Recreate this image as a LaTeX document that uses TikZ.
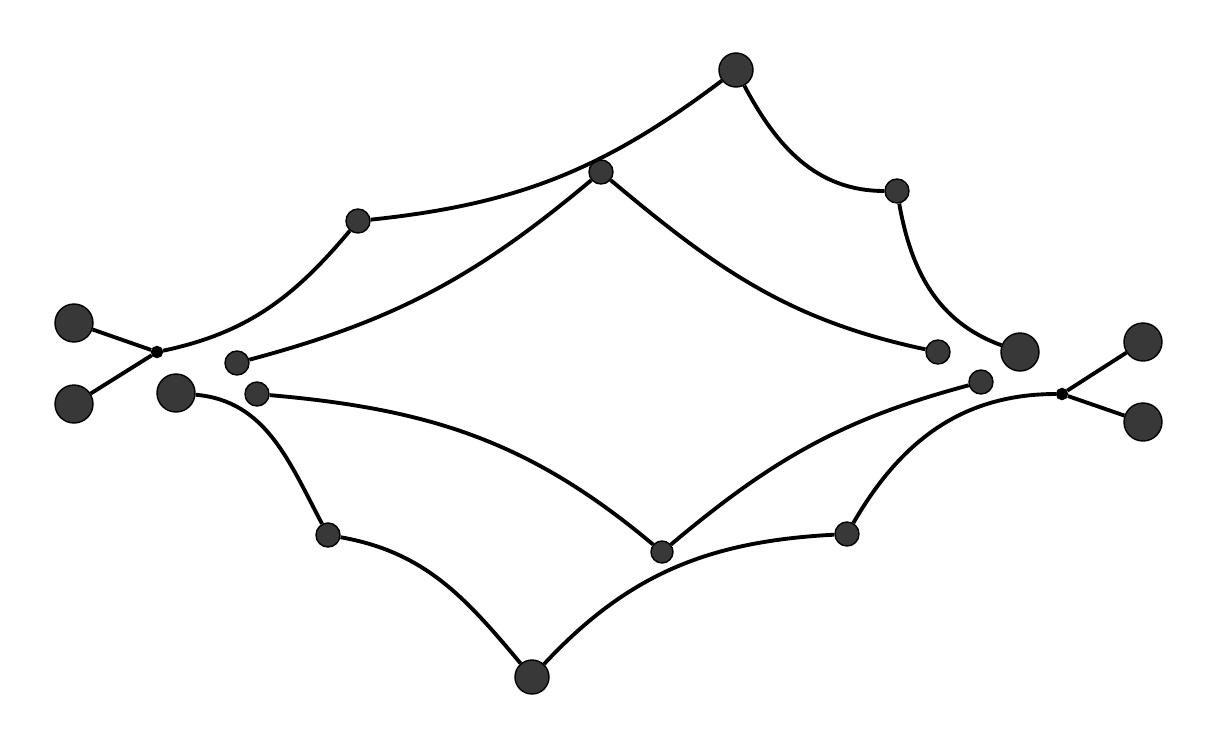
\documentclass[tikz,border=0pt]{standalone}
\definecolor{dotgray}{HTML}{383838}
\begin{document}
\begin{tikzpicture}
    \useasboundingbox (0,0) rectangle (12.2,7.52);
    \begin{scope}
        \tikzstyle{every node}=[fill=dotgray, draw=black, circle, inner sep=0pt, thin]
        \tikzstyle{big}=[minimum size=0.38cm]
        \tikzstyle{mid}=[minimum size=0.24cm]
        \tikzstyle{knot}=[fill=black, minimum size=0.11cm]
        \node[big] (0) at (0.74,4.29) {};
        \node[big] (1) at (0.74,3.48) {};
        \node[knot] (2) at (1.57,4.00) {};
        \node[mid] (3) at (3.58,5.31) {};
        \node[big, minimum size=0.34cm] (4) at (7.36,6.82) {};
        \node[mid] (5) at (8.97,5.61) {};
        \node[big] (6) at (10.20,4.00) {};
        \node[mid] (7) at (6.01,5.80) {};
        \node[mid] (8) at (9.38,4.00) {};
        \node[mid] (9) at (2.37,3.89) {};
        \node[mid] (10) at (2.57,3.58) {};
        \node[big] (11) at (1.76,3.59) {};
        \node[mid] (12) at (3.28,2.17) {};
        \node[big, minimum size=0.34cm] (13) at (5.32,0.75) {};
        \node[mid, minimum size=0.22cm] (14) at (6.62,2.00) {};
        \node[mid] (15) at (9.81,3.70) {};
        \node[mid] (16) at (8.47,2.18) {};
        \node[knot] (17) at (10.62,3.58) {};
        \node[big] (18) at (11.43,4.10) {};
        \node[big] (19) at (11.43,3.30) {};
    \end{scope}
    \begin{scope}
        \tikzstyle{every edge}=[draw, line width=1.1pt]
        \path
        (0) edge (2)
        (1) edge (2)
        (2) edge[out=12, in=230] (3)
        (3) edge[out=6, in=217] (4)
        (4) edge[out=-62, in=180] (5)
        (5) edge[out=-80, in=160] (6)
        (9) edge[out=15, in=220] (7)
        (7) edge[out=-40, in=168] (8)
        (11) edge[out=-5, in=118] (12)
        (12) edge[out=-10, in=130] (13)
        (13) edge[out=47, in=183] (16)
        (16) edge[out=60, in=180] (17)
        (17) edge (18)
        (17) edge (19)
        (10) edge[out=-5, in=140] (14)
        (14) edge[out=40, in=195] (15);
    \end{scope}
\end{tikzpicture}
\end{document}
